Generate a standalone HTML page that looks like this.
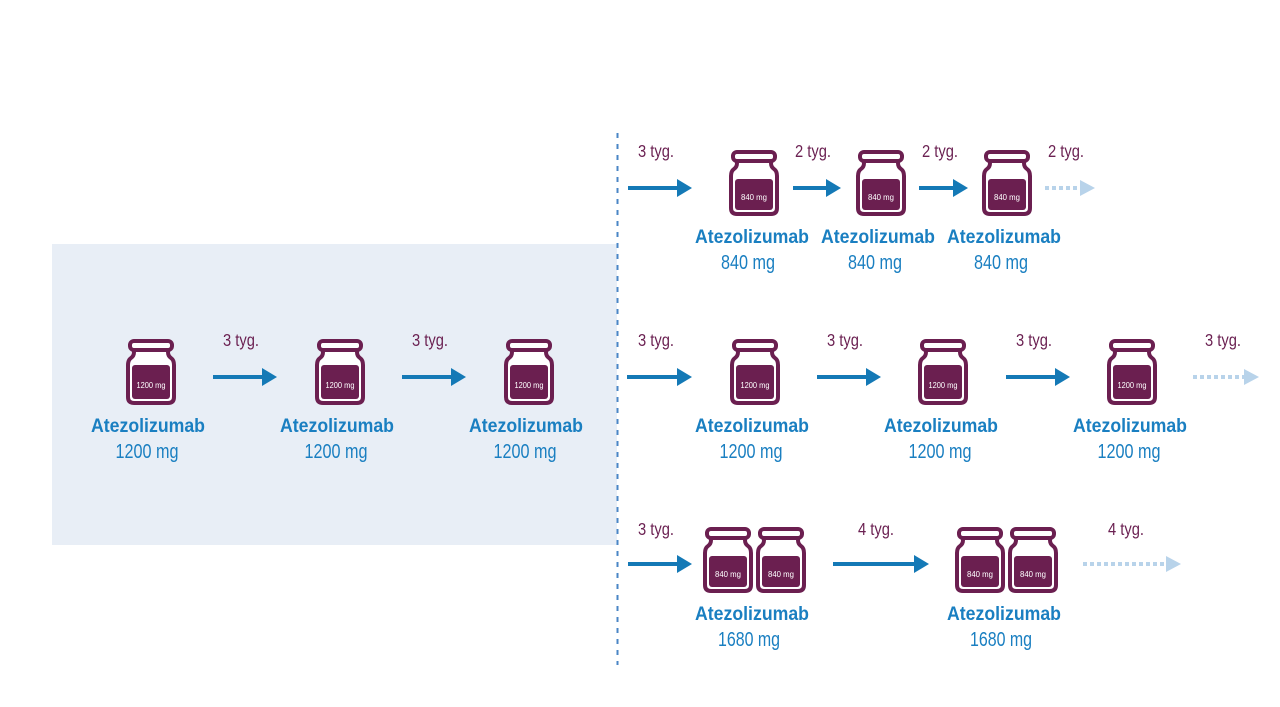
<!DOCTYPE html>
<html>
<head>
<meta charset="utf-8">
<style>
html,body{margin:0;padding:0;background:#fff;}
body{width:1280px;height:707px;overflow:hidden;}
svg{display:block;}
.tyg{font-family:"Liberation Sans",sans-serif;font-size:17.5px;fill:#6b2152;}
.name{font-family:"Liberation Sans",sans-serif;font-size:19.5px;font-weight:bold;fill:#1a7fc1;}
.dose{font-family:"Liberation Sans",sans-serif;font-size:20.5px;fill:#1a7fc1;}
.vt{font-family:"Liberation Sans",sans-serif;font-size:8.5px;fill:#fff;}
</style>
</head>
<body>
<svg width="1280" height="707" viewBox="0 0 1280 707" xmlns="http://www.w3.org/2000/svg">
<defs>
  <g id="vialBase">
    <path d="M8,10 L8,13 Q8,17 5,19 Q2,21 2,26 L2,58 Q2,64 8,64 L42,64 Q48,64 48,58 L48,26 Q48,21 45,19 Q42,17 42,13 L42,10 Z" fill="#fff" stroke="#6b1f50" stroke-width="4" stroke-linejoin="round"/>
    <rect x="4" y="2" width="42" height="9" rx="4" fill="#fff" stroke="#6b1f50" stroke-width="4"/>
  </g>
  <g id="vial1200">
    <use href="#vialBase"/>
    <rect x="6" y="26" width="38" height="34" rx="3" fill="#6b1f50"/>
  </g>
  <g id="vial840">
    <use href="#vialBase"/>
    <rect x="6" y="29" width="38" height="31" rx="3" fill="#6b1f50"/>
  </g>
</defs>

<rect x="52" y="244" width="565" height="301" fill="#e8eef6"/>
<line x1="617.5" y1="133" x2="617.5" y2="665" stroke="#4a86c6" stroke-width="2" stroke-dasharray="5 6"/>

<g stroke="#1479b6" stroke-width="4" fill="none">
  <line x1="628" y1="188" x2="679" y2="188"/>
  <line x1="793" y1="188" x2="828" y2="188"/>
  <line x1="919" y1="188" x2="955" y2="188"/>
  <line x1="213" y1="377" x2="264" y2="377"/>
  <line x1="402" y1="377" x2="453" y2="377"/>
  <line x1="627" y1="377" x2="679" y2="377"/>
  <line x1="817" y1="377" x2="868" y2="377"/>
  <line x1="1006" y1="377" x2="1057" y2="377"/>
  <line x1="628" y1="564" x2="679" y2="564"/>
  <line x1="833" y1="564" x2="916" y2="564"/>
</g>
<g fill="#1479b6">
  <polygon points="677,179 692,188 677,197"/>
  <polygon points="826,179 841,188 826,197"/>
  <polygon points="953,179 968,188 953,197"/>
  <polygon points="262,368 277,377 262,386"/>
  <polygon points="451,368 466,377 451,386"/>
  <polygon points="677,368 692,377 677,386"/>
  <polygon points="866,368 881,377 866,386"/>
  <polygon points="1055,368 1070,377 1055,386"/>
  <polygon points="677,555 692,564 677,573"/>
  <polygon points="914,555 929,564 914,573"/>
</g>

<g stroke="#b8d3ea" stroke-width="4" stroke-dasharray="4 3" fill="none">
  <line x1="1045" y1="188" x2="1081" y2="188"/>
  <line x1="1193" y1="377" x2="1246" y2="377"/>
  <line x1="1083" y1="564" x2="1167" y2="564"/>
</g>
<g fill="#b8d3ea">
  <polygon points="1080,180 1095,188 1080,196"/>
  <polygon points="1244,369 1259,377 1244,385"/>
  <polygon points="1166,556 1181,564 1166,572"/>
</g>

<g class="tyg">
  <text x="638" y="157" textLength="36" lengthAdjust="spacingAndGlyphs">3 tyg.</text>
  <text x="795" y="157" textLength="36" lengthAdjust="spacingAndGlyphs">2 tyg.</text>
  <text x="922" y="157" textLength="36" lengthAdjust="spacingAndGlyphs">2 tyg.</text>
  <text x="1048" y="157" textLength="36" lengthAdjust="spacingAndGlyphs">2 tyg.</text>

  <text x="223" y="346" textLength="36" lengthAdjust="spacingAndGlyphs">3 tyg.</text>
  <text x="412" y="346" textLength="36" lengthAdjust="spacingAndGlyphs">3 tyg.</text>
  <text x="638" y="346" textLength="36" lengthAdjust="spacingAndGlyphs">3 tyg.</text>
  <text x="827" y="346" textLength="36" lengthAdjust="spacingAndGlyphs">3 tyg.</text>
  <text x="1016" y="346" textLength="36" lengthAdjust="spacingAndGlyphs">3 tyg.</text>
  <text x="1205" y="346" textLength="36" lengthAdjust="spacingAndGlyphs">3 tyg.</text>

  <text x="638" y="535" textLength="36" lengthAdjust="spacingAndGlyphs">3 tyg.</text>
  <text x="858" y="535" textLength="36" lengthAdjust="spacingAndGlyphs">4 tyg.</text>
  <text x="1108" y="535" textLength="36" lengthAdjust="spacingAndGlyphs">4 tyg.</text>
</g>

<use href="#vial1200" x="126" y="339"/>
<use href="#vial1200" x="315" y="339"/>
<use href="#vial1200" x="504" y="339"/>
<use href="#vial1200" x="730" y="339"/>
<use href="#vial1200" x="918" y="339"/>
<use href="#vial1200" x="1107" y="339"/>
<use href="#vial840" x="729" y="150"/>
<use href="#vial840" x="856" y="150"/>
<use href="#vial840" x="982" y="150"/>
<use href="#vial840" x="703" y="527"/>
<use href="#vial840" x="756" y="527"/>
<use href="#vial840" x="955" y="527"/>
<use href="#vial840" x="1008" y="527"/>

<g class="vt" text-anchor="middle">
  <text x="151" y="388" textLength="29" lengthAdjust="spacingAndGlyphs">1200 mg</text>
  <text x="340" y="388" textLength="29" lengthAdjust="spacingAndGlyphs">1200 mg</text>
  <text x="529" y="388" textLength="29" lengthAdjust="spacingAndGlyphs">1200 mg</text>
  <text x="755" y="388" textLength="29" lengthAdjust="spacingAndGlyphs">1200 mg</text>
  <text x="943" y="388" textLength="29" lengthAdjust="spacingAndGlyphs">1200 mg</text>
  <text x="1132" y="388" textLength="29" lengthAdjust="spacingAndGlyphs">1200 mg</text>

  <text x="754" y="200" textLength="26" lengthAdjust="spacingAndGlyphs">840 mg</text>
  <text x="881" y="200" textLength="26" lengthAdjust="spacingAndGlyphs">840 mg</text>
  <text x="1007" y="200" textLength="26" lengthAdjust="spacingAndGlyphs">840 mg</text>

  <text x="728" y="577" textLength="26" lengthAdjust="spacingAndGlyphs">840 mg</text>
  <text x="781" y="577" textLength="26" lengthAdjust="spacingAndGlyphs">840 mg</text>
  <text x="980" y="577" textLength="26" lengthAdjust="spacingAndGlyphs">840 mg</text>
  <text x="1033" y="577" textLength="26" lengthAdjust="spacingAndGlyphs">840 mg</text>
</g>

<g class="name" text-anchor="middle">
  <text x="752" y="243" textLength="114" lengthAdjust="spacingAndGlyphs">Atezolizumab</text>
  <text x="878" y="243" textLength="114" lengthAdjust="spacingAndGlyphs">Atezolizumab</text>
  <text x="1004" y="243" textLength="114" lengthAdjust="spacingAndGlyphs">Atezolizumab</text>

  <text x="148" y="432" textLength="114" lengthAdjust="spacingAndGlyphs">Atezolizumab</text>
  <text x="337" y="432" textLength="114" lengthAdjust="spacingAndGlyphs">Atezolizumab</text>
  <text x="526" y="432" textLength="114" lengthAdjust="spacingAndGlyphs">Atezolizumab</text>
  <text x="752" y="432" textLength="114" lengthAdjust="spacingAndGlyphs">Atezolizumab</text>
  <text x="941" y="432" textLength="114" lengthAdjust="spacingAndGlyphs">Atezolizumab</text>
  <text x="1130" y="432" textLength="114" lengthAdjust="spacingAndGlyphs">Atezolizumab</text>

  <text x="752" y="620" textLength="114" lengthAdjust="spacingAndGlyphs">Atezolizumab</text>
  <text x="1004" y="620" textLength="114" lengthAdjust="spacingAndGlyphs">Atezolizumab</text>
</g>

<g class="dose" text-anchor="middle">
  <text x="748" y="269" textLength="54" lengthAdjust="spacingAndGlyphs">840 mg</text>
  <text x="875" y="269" textLength="54" lengthAdjust="spacingAndGlyphs">840 mg</text>
  <text x="1001" y="269" textLength="54" lengthAdjust="spacingAndGlyphs">840 mg</text>

  <text x="147" y="458" textLength="63" lengthAdjust="spacingAndGlyphs">1200 mg</text>
  <text x="336" y="458" textLength="63" lengthAdjust="spacingAndGlyphs">1200 mg</text>
  <text x="525" y="458" textLength="63" lengthAdjust="spacingAndGlyphs">1200 mg</text>
  <text x="751" y="458" textLength="63" lengthAdjust="spacingAndGlyphs">1200 mg</text>
  <text x="940" y="458" textLength="63" lengthAdjust="spacingAndGlyphs">1200 mg</text>
  <text x="1129" y="458" textLength="63" lengthAdjust="spacingAndGlyphs">1200 mg</text>

  <text x="749" y="646" textLength="62" lengthAdjust="spacingAndGlyphs">1680 mg</text>
  <text x="1001" y="646" textLength="62" lengthAdjust="spacingAndGlyphs">1680 mg</text>
</g>
</svg>
</body>
</html>
